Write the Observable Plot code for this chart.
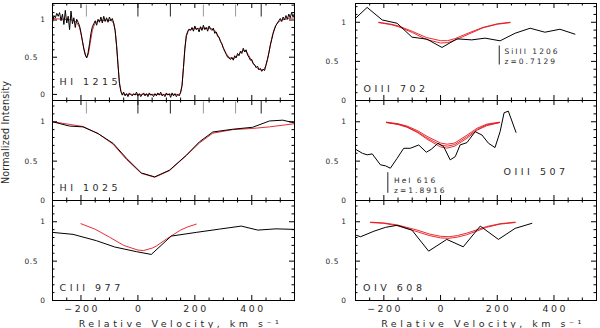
<!DOCTYPE html>
<html><head><meta charset="utf-8">
<script src="https://cdn.jsdelivr.net/npm/d3@7"></script>
<script src="https://cdn.jsdelivr.net/npm/@observablehq/plot@0.6"></script>
<style>
html,body{margin:0;padding:0;background:#fff;}
#chart{position:relative;width:600px;height:328px;overflow:hidden;background:#fff;}
#chart svg{position:absolute;}
</style></head><body><div id="chart"></div>
<script>
// ---------- data (velocity km/s, normalized intensity) ----------
const xDomain = [-300, 550];
const xMajorTicks = [-200, 0, 200, 400];
const xMinorTicks = [-250, -150, -100, -50, 50, 100, 150, 250, 300, 350, 450, 500];
const yLabelTicks = [0, 1];
const yHalfTick = [0.5];
const yMajorTicks = [0, 0.5, 1];
const yMinorTicks = [0.1, 0.2, 0.3, 0.4, 0.6, 0.7, 0.8, 0.9, 1.1, 1.2];

const lyaStrongComponents = [0, 114, 433];
const lyaWeakComponents = [-181, 230, 343];
const siIIIVelocity = [207];
const heIVelocity = [-186];

const obsHI1215 = [[-300,0.97],[-295,1.06],[-290,1.03],[-285,1.09],[-280,1.05],[-275,1.10],[-270,0.99],[-265,1.08],[-260,0.94],[-255,1.13],[-250,0.96],[-245,1.05],[-240,0.87],[-235,1.12],[-230,0.95],[-225,1.03],[-220,0.90],[-215,1.01],[-210,0.97],[-205,0.92],
[-200,0.83],[-195,0.72],[-190,0.61],[-185,0.53],[-180,0.49],[-175,0.56],[-170,0.68],[-165,0.82],[-160,0.91],[-155,0.95],[-150,0.99],[-145,0.93],[-140,1.01],[-135,0.97],[-130,1.04],[-125,0.96],[-120,1.05],[-115,0.98],[-110,1.03],[-105,0.97],[-100,1.04],[-95,0.99],[-90,1.02],[-85,0.96],[-80,0.86],[-75,0.66],[-70,0.40],[-65,0.15],[-60,0.04],
[-55,-0.01],[-50,0.03],[-45,-0.02],[-40,0.01],[-35,-0.03],[-30,0.02],[-25,0.00],[-20,-0.02],[-15,0.01],[-10,-0.01],[-5,0.03],[0,-0.02],[5,0.01],[10,-0.03],[15,0.00],[20,0.02],[25,-0.02],[30,0.01],[35,-0.03],[40,0.02],[45,-0.01],[50,0.00],[55,-0.03],[60,0.01],[65,-0.02],[70,0.02],[75,-0.01],[80,0.03],[85,-0.02],[90,0.00],[95,-0.03],[100,0.02],[105,-0.01],[110,0.01],[115,-0.04],[120,0.02],[125,-0.02],[130,0.01],[135,-0.03],[140,0.00],[145,-0.02],[150,0.03],
[155,0.12],[160,0.36],[165,0.62],[170,0.79],[175,0.85],[180,0.88],[185,0.86],[190,0.90],[195,0.85],[200,0.92],[205,0.87],[210,0.89],[215,0.84],[220,0.91],[225,0.86],[230,0.93],[235,0.87],[240,0.90],[245,0.85],[250,0.92],[255,0.88],[260,0.86],[265,0.89],[270,0.82],[275,0.84],[280,0.78],[285,0.77],[290,0.71],[295,0.68],[300,0.62],[305,0.58],[310,0.54],[315,0.50],[320,0.49],[325,0.47],[330,0.50],[335,0.46],[340,0.52],[345,0.49],[350,0.55],[355,0.52],[360,0.58],[365,0.55],[370,0.62],[375,0.57],[380,0.60],[385,0.53],[390,0.50],[395,0.46],[400,0.47],[405,0.41],[410,0.40],[415,0.36],[420,0.38],[425,0.33],[430,0.35],[435,0.31],[440,0.34],[445,0.32],[450,0.40],[455,0.47],[460,0.56],[465,0.66],[470,0.74],[475,0.82],[480,0.88],[485,0.93],[490,0.96],[495,0.99],[500,1.02],[505,0.98],[510,1.04],[515,1.00],[520,1.06],[525,1.01],[530,1.08],[535,1.03],[540,1.10],[545,1.04],[550,1.09]];
const fitHI1215 = [[-300,1.02],[-260,1.01],[-230,1.0],[-215,0.97],[-205,0.9],[-198,0.78],[-190,0.62],[-183,0.52],[-179,0.5],[-174,0.54],[-168,0.68],[-160,0.86],[-152,0.95],[-140,0.99],[-110,1.0],[-92,0.99],[-85,0.95],[-80,0.86],[-75,0.66],[-70,0.41],[-65,0.17],[-60,0.05],[-55,0.01],[-45,0],[145,0],[150,0.02],[155,0.12],[160,0.36],[165,0.61],[170,0.78],[178,0.86],[190,0.88],[220,0.89],[255,0.89],[270,0.86],[280,0.8],[290,0.72],[300,0.63],[310,0.55],[320,0.5],[330,0.48],[340,0.49],[350,0.52],[362,0.57],[372,0.59],[380,0.58],[390,0.52],[400,0.45],[410,0.39],[420,0.35],[432,0.33],[442,0.33],[450,0.39],[458,0.52],[466,0.68],[474,0.82],[482,0.91],[492,0.97],[505,1.0],[530,1.02],[550,1.03]];

const obsHI1025 = [[-300,1.0],[-240,0.945],[-193,0.935],[-140,0.85],[-87,0.725],[-40,0.535],[12,0.35],[59,0.30],[111,0.385],[170,0.575],[216,0.745],[263,0.87],[333,0.905],[403,0.93],[462,1.01],[509,1.02],[550,0.985]];
const fitHI1025 = [[-300,1.0],[-193,0.94],[-140,0.85],[-87,0.715],[-40,0.52],[12,0.345],[59,0.295],[111,0.38],[170,0.57],[216,0.73],[263,0.855],[333,0.9],[403,0.915],[462,0.935],[550,0.975]];

const obsCIII977 = [[-300,0.865],[-228,0.84],[-146,0.76],[-82,0.68],[-5,0.62],[47,0.585],[117,0.818],[205,0.865],[287,0.907],[363,0.945],[421,0.894],[485,0.91],[550,0.903]];
const fitCIII977 = [[-200,0.975],[-150,0.905],[-100,0.805],[-50,0.7],[0,0.64],[20,0.635],[50,0.665],[64,0.69],[100,0.78],[150,0.895],[175,0.935],[205,0.97]];

const obsOIII702 = [[-300,1.05],[-259,1.19],[-206,1.03],[-153,0.987],[-101,0.81],[-48,0.784],[5,0.678],[58,0.788],[110,0.775],[157,0.797],[210,0.763],[263,0.86],[316,0.924],[368,0.873],[421,0.911],[474,0.848]];
const fitOIII702a = [[-218,1.0],[-175,0.975],[-150,0.955],[-100,0.885],[-50,0.805],[0,0.765],[25,0.765],[50,0.79],[100,0.865],[150,0.935],[200,0.98],[245,1.0]];
const fitOIII702b = [[-218,0.995],[-175,0.97],[-150,0.945],[-100,0.87],[-50,0.78],[0,0.735],[25,0.74],[50,0.77],[100,0.85],[150,0.93],[200,0.975],[245,0.995]];

const obsOIII507 = [[-300,0.651],[-276,0.60],[-259,0.58],[-241,0.592],[-212,0.453],[-194,0.44],[-177,0.41],[-153,0.537],[-130,0.663],[-107,0.663],[-77,0.705],[-50,0.613],[-33,0.65],[-9,0.727],[11,0.684],[34,0.516],[52,0.558],[69,0.706],[93,0.735],[122,0.874],[146,0.832],[169,0.727],[192,0.672],[210,0.874],[224,1.114],[239,1.135],[266,0.866]];
const fitOIII507a = [[-191,0.995],[-150,0.975],[-118,0.945],[-80,0.885],[-48,0.815],[0,0.73],[23,0.715],[50,0.73],[93,0.83],[130,0.92],[163,0.97],[208,0.995]];
const fitOIII507b = [[-191,0.99],[-150,0.97],[-118,0.935],[-80,0.87],[-48,0.795],[0,0.705],[23,0.69],[50,0.71],[93,0.81],[130,0.905],[163,0.96],[208,0.99]];
const fitOIII507c = [[-191,0.99],[-150,0.965],[-118,0.93],[-80,0.86],[-48,0.78],[0,0.68],[23,0.665],[50,0.69],[93,0.79],[130,0.895],[163,0.95],[208,0.99]];

const obsOIV608 = [[-300,0.831],[-282,0.81],[-235,0.88],[-194,0.929],[-153,0.955],[-101,0.894],[-42,0.627],[22,0.776],[80,0.682],[140,0.945],[204,0.776],[263,0.916],[322,0.98]];
const fitOIV608a = [[-247,0.995],[-200,0.985],[-153,0.96],[-83,0.895],[-40,0.845],[0,0.815],[30,0.81],[60,0.825],[92,0.855],[130,0.9],[163,0.94],[210,0.975],[263,0.995]];
const fitOIV608b = [[-247,0.99],[-200,0.98],[-153,0.95],[-83,0.875],[-40,0.825],[0,0.795],[30,0.79],[60,0.805],[92,0.835],[130,0.885],[163,0.93],[210,0.97],[263,0.99]];

// ---------- drawing ----------
const FONT = "DejaVu Sans, sans-serif";
const INK = "#2a2a2a";
const RED = "#e3151d";
const chart = document.getElementById("chart");
// letter spacing per text role, keyed by the (distinct) font size used for that role
const spacingBySize = {"9.5": 3.5, "9.4": 2.5, "7.5": 2, "7.4": 0.6, "9.6": 0.2};

function T(data, opts) {
  return Plot.text(data, {fontFamily: FONT, fill: INK, ...opts});
}

function panel(o) {
  const mT = 3, mR = 4;
  const {x0, y0, w, h, mL, mB, yDomain} = o;
  const inside = (arr, d) => arr.filter(v => v > d[0] + 1e-6 && v < d[1] - 1e-6);
  const xMa = inside(xMajorTicks, xDomain), xMi = inside(xMinorTicks, xDomain);
  const yMa = inside(yMajorTicks, yDomain), yMi = inside(yMinorTicks, yDomain);
  const tk = {stroke: "#000", strokeWidth: 1};
  const line = (data, stroke, sw) => Plot.line(data, {x: d => d[0], y: d => d[1], stroke, strokeWidth: sw, clip: true});
  const marks = [
    Plot.ruleX(xMa, {x: d => d, insetTop: h - 5, ...tk}),
    Plot.ruleX(xMa, {x: d => d, insetBottom: h - 5, ...tk}),
    Plot.ruleX(xMi, {x: d => d, insetTop: h - 2.5, ...tk}),
    Plot.ruleX(xMi, {x: d => d, insetBottom: h - 2.5, ...tk}),
    Plot.ruleY(yMa, {y: d => d, insetRight: w - 5, ...tk}),
    Plot.ruleY(yMa, {y: d => d, insetLeft: w - 5, ...tk}),
    Plot.ruleY(yMi, {y: d => d, insetRight: w - 2.5, ...tk}),
    Plot.ruleY(yMi, {y: d => d, insetLeft: w - 2.5, ...tk}),
    ...(o.extra || []),
    ...o.fits.map(f => line(f, RED, 0.9)),
    line(o.obs, "#000", 1),
    Plot.frame({stroke: "#000", strokeWidth: 1}),
    T(yLabelTicks, {y: d => d, text: d => String(d), frameAnchor: "left", textAnchor: "end", dx: o.yPad, fontSize: 7.4}),
    T(yHalfTick, {y: d => d, text: d => String(d), frameAnchor: "left", textAnchor: "end", dx: o.yPad - 7.5, fontSize: 7.4}),
    T([o.label], {text: d => d, frameAnchor: "top-left", textAnchor: "start", lineAnchor: "bottom", dx: o.lx, dy: o.lb, fontSize: 9.5})
  ];
  if (o.showX) {
    marks.push(T(xMajorTicks, {x: d => d, text: d => (d < 0 ? "\u2212" : "") + Math.abs(d), frameAnchor: "bottom", lineAnchor: "top", dy: 4.5, dx: 1.2, fontSize: 9.4}));
    marks.push(T(["Relative Velocity, km s\u207B\u00B9"], {text: d => d, frameAnchor: "bottom", lineAnchor: "bottom", dy: 26.5, dx: 7, fontSize: 9.5}));
  }
  if (o.more) marks.push(...o.more);
  const svg = Plot.plot({
    width: w + mL + mR, height: h + mT + mB,
    marginLeft: mL, marginRight: mR, marginTop: mT, marginBottom: mB,
    x: {domain: xDomain, axis: null},
    y: {domain: yDomain, axis: null},
    style: {background: "transparent", overflow: "visible", fontFamily: FONT, maxWidth: "none"},
    marks
  });
  svg.querySelectorAll("[font-size]").forEach(g => {
    const ls = spacingBySize[String(parseFloat(g.getAttribute("font-size")))];
    if (ls !== undefined) g.style.letterSpacing = ls + "px";
  });
  svg.style.left = (x0 - mL) + "px";
  svg.style.top = (y0 - mT) + "px";
  chart.appendChild(svg);
}

const compTicks = h => [
  Plot.ruleX(lyaWeakComponents, {x: d => d, insetTop: 1.5, insetBottom: h - 13.5, stroke: "#9a9a9a", strokeWidth: 1}),
  Plot.ruleX(lyaStrongComponents, {x: d => d, insetTop: 0.5, insetBottom: h - 13.5, stroke: "#222", strokeWidth: 1})
];

// left column
panel({x0: 52, y0: 3, w: 242, h: 97, mL: 52, mB: 3, yDomain: [-0.082, 1.222], obs: obsHI1215, fits: [fitHI1215], label: "HI 1215", lx: 7, lb: 81, yPad: -7, extra: compTicks(97)});
panel({x0: 52, y0: 100, w: 242, h: 100, mL: 52, mB: 3, yDomain: [0, 1.27], obs: obsHI1025, fits: [fitHI1025], label: "HI 1025", lx: 7, lb: 90, yPad: -7, extra: compTicks(100),
  more: [T(["Normalized Intensity"], {text: d => d, frameAnchor: "left", rotate: -90, lineAnchor: "bottom", textAnchor: "middle", dx: -43.5, dy: -18, fontSize: 9.6})]});
panel({x0: 52, y0: 200, w: 242, h: 100, mL: 52, mB: 28, yDomain: [0, 1.27], obs: obsCIII977, fits: [fitCIII977], label: "CIII 977", lx: 7, lb: 90, yPad: -7, showX: true});

// right column
panel({x0: 355, y0: 3, w: 241, h: 97, mL: 55, mB: 3, yDomain: [0, 1.24], obs: obsOIII702, fits: [fitOIII702a, fitOIII702b], label: "OIII 702", lx: 8, lb: 88.5, yPad: -9,
  extra: [Plot.ruleX(siIIIVelocity, {x: d => d, insetTop: 42.5, insetBottom: 35.5, stroke: "#222"})],
  more: [T(["SiIII 1206"], {text: d => d, frameAnchor: "top-left", textAnchor: "start", lineAnchor: "bottom", dx: 149, dy: 50, fontSize: 7.5}),
         T(["z=0.7129"], {text: d => d, frameAnchor: "top-left", textAnchor: "start", lineAnchor: "bottom", dx: 149, dy: 60.5, fontSize: 7.5})]});
panel({x0: 355, y0: 100, w: 241, h: 100, mL: 55, mB: 3, yDomain: [0, 1.27], obs: obsOIII507, fits: [fitOIII507a, fitOIII507b, fitOIII507c], label: "OIII 507", lx: 148, lb: 74, yPad: -9,
  extra: [Plot.ruleX(heIVelocity, {x: d => d, insetTop: 72.2, insetBottom: 7.2, stroke: "#222"})],
  more: [T(["HeI 616"], {text: d => d, frameAnchor: "top-left", textAnchor: "start", lineAnchor: "bottom", dx: 38.5, dy: 82.2, fontSize: 7.5}),
         T(["z=1.8916"], {text: d => d, frameAnchor: "top-left", textAnchor: "start", lineAnchor: "bottom", dx: 38.5, dy: 92.2, fontSize: 7.5})]});
panel({x0: 355, y0: 200, w: 241, h: 100, mL: 55, mB: 28, yDomain: [0, 1.27], obs: obsOIV608, fits: [fitOIV608a, fitOIV608b], label: "OIV 608", lx: 7.5, lb: 90, yPad: -9, showX: true});
</script>
</body></html>
